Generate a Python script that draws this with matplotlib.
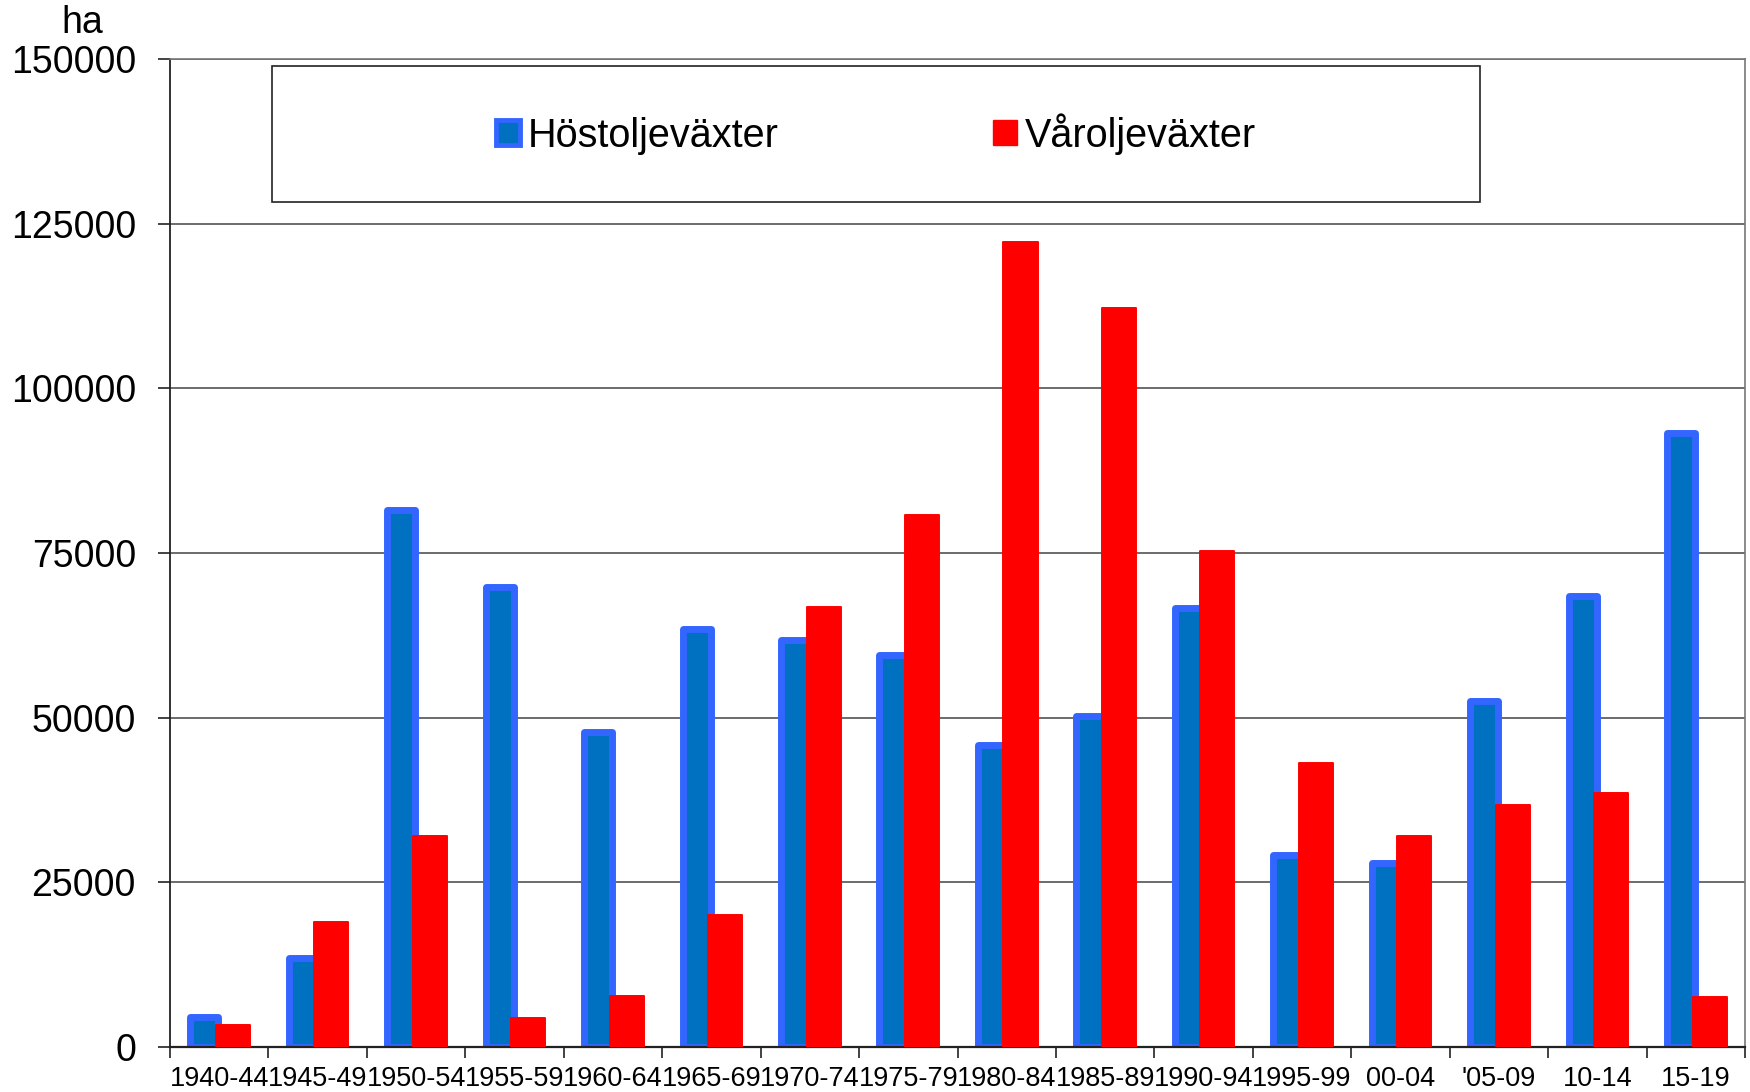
import matplotlib.pyplot as plt
import numpy as np
from matplotlib.patches import Rectangle, Patch

plt.rcParams['font.family'] = ['Liberation Sans', 'DejaVu Sans']

periods = ['1940-44', '1945-49', '1950-54', '1955-59', '1960-64', '1965-69',
           '1970-74', '1975-79', '1980-84', '1985-89', '1990-94', '1995-99',
           '00-04', "'05-09", '10-14', '15-19']
host = [4500, 13500, 81500, 69800, 47800, 63400, 61800, 59500,
        45900, 50300, 66600, 29100, 27900, 52500, 68400, 93200]
var = [3400, 19000, 32000, 4400, 7800, 20000, 66800, 80800,
       122200, 112200, 75300, 43100, 32000, 36800, 38600, 7600]

fig = plt.figure(figsize=(17.5, 10.92), dpi=100)
ax = fig.add_axes([170 / 1750, 1 - 1047 / 1092, 1575 / 1750, 988 / 1092])

x = np.arange(len(periods))
ax.bar(x - 0.15, host, width=0.285, color='#0070C0', edgecolor='#3366FF',
       linewidth=5.0, joinstyle='round', zorder=2)
ax.bar(x + 0.14, var, width=0.346, color='#FF0000', edgecolor='#FF0000',
       linewidth=1.4, joinstyle='round', zorder=3)

ax.set_xlim(-0.5, len(periods) - 0.5)
ax.set_ylim(0, 150000)
ax.set_yticks(np.arange(0, 150001, 25000))
ax.grid(axis='y', color='#444444', linewidth=1.1, zorder=0)
ax.set_axisbelow(True)

ax.set_xticks(x)
ax.set_xticklabels(periods, fontsize=19.5)
ax.set_xticks(np.arange(-0.5, len(periods)), minor=True)
ax.tick_params(axis='x', which='major', length=0, pad=14)
ax.tick_params(axis='x', which='minor', length=8, width=1.2, color='#222222')
ax.tick_params(axis='y', length=8.5, width=1.2, pad=16, labelsize=27, color='#222222')

for s in ['top', 'right']:
    ax.spines[s].set_color('#777777')
    ax.spines[s].set_linewidth(1.2)
ax.spines['left'].set_color('#222222')
ax.spines['left'].set_linewidth(1.3)
ax.spines['bottom'].set_color('#222222')
ax.spines['bottom'].set_linewidth(1.6)

fig.text(82 / 1750, 1 - 33 / 1092, 'ha', fontsize=27, ha='center', va='baseline')

# legend box
fig.patches.append(Rectangle((272 / 1750, 1 - 202 / 1092), 1208 / 1750, 136 / 1092,
                             transform=fig.transFigure, facecolor='white',
                             edgecolor='#222222', linewidth=1.2, zorder=5))
handles = [Patch(facecolor='#0070C0', edgecolor='#3366FF', linewidth=3.5),
           Patch(facecolor='#FF0000', edgecolor='#FF0000', linewidth=1)]
leg = fig.legend(handles, ['Höstoljeväxter', 'Våroljeväxter'], ncol=2,
                 loc='center', bbox_to_anchor=(876 / 1750, 1 - 134 / 1092),
                 frameon=False, fontsize=28.5, handlelength=0.6, handleheight=0.6,
                 handletextpad=0.2, columnspacing=5.4)
leg.set_zorder(6)

fig.savefig('out.png', dpi=100)
